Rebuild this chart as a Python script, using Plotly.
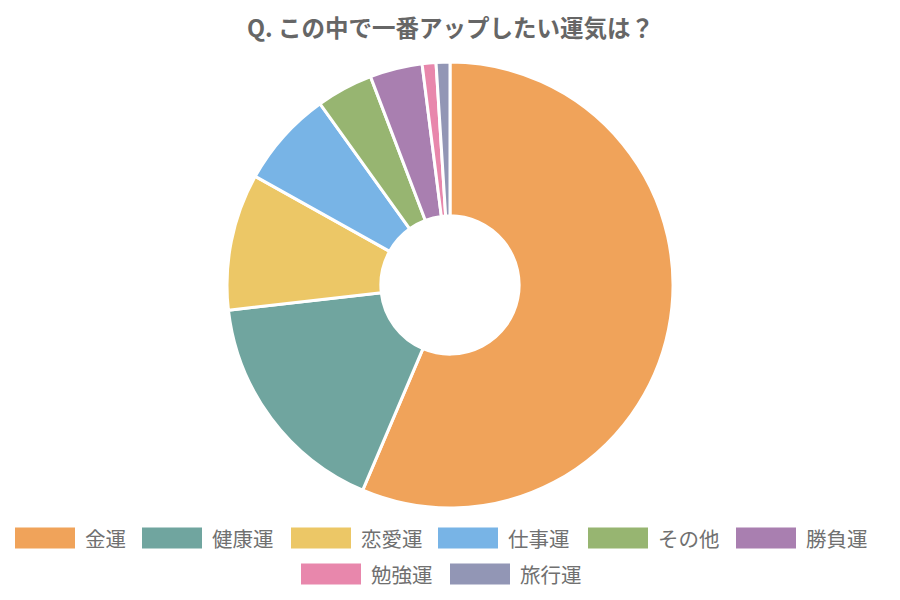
import plotly.graph_objects as go

categories = ["金運", "健康運", "恋愛運", "仕事運", "その他", "勝負運", "勉強運", "旅行運"]
values = [56.4, 16.8, 9.9, 7.0, 4.1, 3.8, 1.0, 1.0]
colors = ["#F0A35A", "#70A59F", "#ECC766", "#78B4E6", "#97B571", "#A97FB0", "#E887AC", "#9296B5"]
title_text = "Q. この中で一番アップしたい運気は？"

W, H = 900, 600
OFF = 8  # page body margin offset
FONT = "Noto Sans CJK JP, Noto Sans, sans-serif"


def px(x):
    return (x - OFF) / W


def py(y):
    return 1 - (y - OFF) / H


fig = go.Figure()
fig.add_trace(go.Pie(
    labels=categories, values=values, sort=False, direction="clockwise",
    rotation=0, hole=0.31, textinfo="none", showlegend=False,
    marker=dict(colors=colors, line=dict(color="white", width=3)),
    domain=dict(x=[px(227), px(673)], y=[py(508), py(62)]),
))

# manual legend layout (positions in pixels)
legend_pos = [(15, 538), (142, 538), (291, 538), (438, 538), (588, 538), (736, 538),
              (301, 574), (450, 574)]
shapes = []
annotations = []
for (x0, yc), lab, col in zip(legend_pos, categories, colors):
    shapes.append(dict(type="rect", xref="paper", yref="paper",
                       x0=px(x0), x1=px(x0 + 60),
                       y0=py(yc + 10.5), y1=py(yc - 10.5),
                       fillcolor=col, line=dict(width=0)))
    annotations.append(dict(xref="paper", yref="paper", x=px(x0 + 68), y=py(yc),
                            text=lab, showarrow=False, xanchor="left", yanchor="middle",
                            font=dict(family=FONT, size=20.5, color="#707070")))

annotations.append(dict(xref="paper", yref="paper", x=px(450), y=py(27),
                        text="<b>" + title_text + "</b>", showarrow=False,
                        xanchor="center", yanchor="middle",
                        font=dict(family=FONT, size=23.5, color="#666666")))

fig.update_layout(
    width=W, height=H, margin=dict(l=0, r=0, t=0, b=0),
    paper_bgcolor="white", plot_bgcolor="white",
    shapes=shapes, annotations=annotations,
    font=dict(family=FONT),
)
fig.write_html("out.html")
